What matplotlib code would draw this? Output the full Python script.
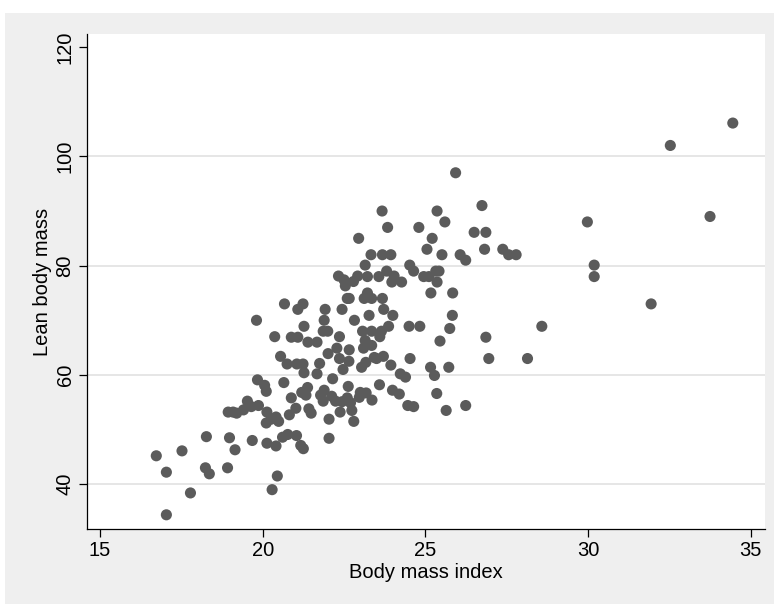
import matplotlib
matplotlib.use("Agg")
import matplotlib.pyplot as plt
from matplotlib.patches import Rectangle

# body mass index vs lean body mass
bmi = [16.73, 17.04, 17.04, 17.52, 17.78, 18.27, 18.24, 18.36, 18.92, 18.98,
       19.15, 18.94, 19.09, 19.20, 19.41, 19.53, 19.65, 19.87, 19.68, 19.81,
       19.84, 20.06, 20.11, 20.13, 20.11, 20.26, 20.41, 20.49, 20.13, 20.41,
       20.29, 20.45, 20.37, 20.55, 20.65, 20.67, 20.75, 20.61, 20.77, 20.82,
       20.88, 20.88, 21.02, 21.04, 21.05, 21.08, 21.08, 21.24, 21.17, 21.25,
       21.20, 21.24, 21.27, 21.27, 21.33, 21.38, 21.39, 21.42, 21.49, 21.67,
       21.67, 21.75, 21.78, 21.86, 21.89, 21.89, 21.92, 21.86, 22.00, 22.01,
       22.04, 22.04, 22.12, 22.15, 22.24, 22.28, 22.33, 22.36, 22.36, 22.38,
       22.44, 22.44, 22.47, 22.50, 22.54, 22.60, 22.66, 22.60, 22.65, 22.66,
       22.63, 22.70, 22.74, 22.79, 22.80, 22.82, 22.92, 22.95, 22.97, 23.00,
       23.04, 23.07, 23.12, 23.10, 23.15, 23.15, 23.18, 23.22, 23.22, 23.27,
       23.17, 23.33, 23.35, 23.35, 23.35, 23.36, 23.43, 23.50, 23.57, 23.59,
       23.60, 23.65, 23.68, 23.67, 23.68, 23.71, 23.72, 23.81, 23.84, 23.87,
       23.94, 23.97, 23.94, 23.99, 24.00, 24.04, 24.20, 24.23, 24.27, 24.39,
       24.46, 24.52, 24.50, 24.53, 24.64, 24.64, 24.80, 24.83, 24.95, 25.05,
       25.11, 25.16, 25.17, 25.21, 25.28, 25.32, 25.36, 25.36, 25.35, 25.42,
       25.45, 25.51, 25.60, 25.64, 25.72, 25.75, 25.83, 25.84, 25.93, 26.07,
       26.24, 26.24, 26.50, 26.74, 26.82, 26.86, 26.86, 26.95, 27.38, 27.56,
       27.79, 28.14, 28.58, 29.98, 30.19, 30.19, 31.94, 32.53, 33.75, 34.45]

lbm = [45.2, 42.2, 34.4, 46.1, 38.4, 48.7, 43.0, 41.9, 43.0, 48.5,
       46.3, 53.2, 53.2, 53.0, 53.6, 55.2, 54.2, 54.4, 48.0, 70.0,
       59.1, 58.1, 57.0, 53.2, 51.2, 51.9, 52.3, 51.5, 47.5, 47.0,
       39.0, 41.5, 67.0, 63.4, 58.6, 73.0, 62.0, 48.6, 49.1, 52.7,
       55.8, 66.9, 53.9, 48.9, 62.0, 66.9, 72.0, 73.0, 47.1, 46.5,
       56.8, 62.0, 60.4, 68.9, 56.3, 57.7, 66.0, 53.8, 53.0, 66.0,
       60.2, 62.1, 56.3, 55.2, 57.2, 70.0, 72.0, 68.0, 68.0, 63.9,
       51.9, 48.4, 56.1, 59.3, 55.2, 64.9, 78.1, 67.0, 63.0, 53.2,
       55.1, 72.0, 61.0, 77.4, 76.3, 74.0, 74.0, 55.8, 62.5, 64.6,
       57.9, 54.9, 53.5, 77.1, 51.5, 70.0, 78.1, 85.0, 55.9, 56.8,
       61.4, 68.0, 74.0, 64.9, 66.3, 80.1, 56.7, 78.0, 75.0, 70.9,
       62.3, 82.0, 65.4, 68.0, 74.0, 55.4, 63.2, 63.0, 78.0, 58.2,
       67.0, 68.0, 74.0, 90.0, 82.0, 63.4, 72.0, 79.0, 87.0, 68.9,
       82.0, 77.0, 61.8, 57.2, 70.9, 78.1, 56.5, 60.2, 77.0, 59.6,
       54.4, 80.1, 68.9, 63.0, 54.2, 79.0, 87.0, 68.9, 78.0, 83.0,
       78.0, 61.4, 75.0, 85.0, 59.9, 79.0, 90.0, 77.0, 56.6, 79.0,
       66.2, 82.0, 88.0, 53.5, 61.4, 68.5, 70.9, 75.0, 97.0, 82.0,
       81.0, 54.4, 86.1, 91.0, 83.0, 86.1, 66.9, 63.0, 83.0, 82.0,
       82.0, 63.0, 68.9, 88.0, 80.1, 78.0, 73.0, 102.0, 89.0, 106.1]

xticks = [15, 20, 25, 30, 35]
yticks = [40, 60, 80, 100, 120]
gridlines = [40, 60, 80, 100]

plt.rcParams['font.family'] = ['Liberation Sans', 'DejaVu Sans']

W, H = 774, 604
fig = plt.figure(figsize=(W / 100, H / 100), dpi=100, facecolor='white')
# grey graph region behind the plot
fig.patches.append(Rectangle((5 / W, 0), 1 - 5 / W, 1 - 13 / H,
                             transform=fig.transFigure, facecolor='#efefef',
                             edgecolor='none', zorder=-10))

ax = fig.add_axes([87 / W, (H - 529) / H, (765 - 87) / W, (529 - 34) / H])
ax.set_facecolor('white')
ax.set_xlim(14.6, 35.44)
ax.set_ylim(31.8, 122.4)

for g in gridlines:
    ax.axhline(g, color='#e6e6e6', lw=1.4, zorder=1)

ax.scatter(bmi, lbm, s=64, color='#5b5b5b', edgecolors='none', zorder=3)

for side in ['top', 'right']:
    ax.spines[side].set_visible(False)
for side in ['left', 'bottom']:
    ax.spines[side].set_color('black')
    ax.spines[side].set_linewidth(0.9)

ax.set_xticks(xticks)
ax.set_yticks(yticks)
ax.tick_params(axis='both', direction='out', length=6, width=0.9, color='black')
ax.tick_params(axis='x', pad=3)
ax.tick_params(axis='y', pad=3)
for lab in ax.get_xticklabels():
    lab.set_family(['Liberation Sans Narrow', 'Liberation Sans'])
    lab.set_fontsize(14.5)
for lab in ax.get_yticklabels():
    lab.set_fontsize(14.5)
    lab.set_rotation(90)
    lab.set_va('center')

ax.set_xlabel('Body mass index', fontsize=14.5,
              family=['Liberation Sans Narrow', 'Liberation Sans'], labelpad=2)
ax.set_ylabel('Lean body mass', fontsize=14.5, labelpad=2.5)

fig.savefig('out.png', dpi=100, facecolor='white')
